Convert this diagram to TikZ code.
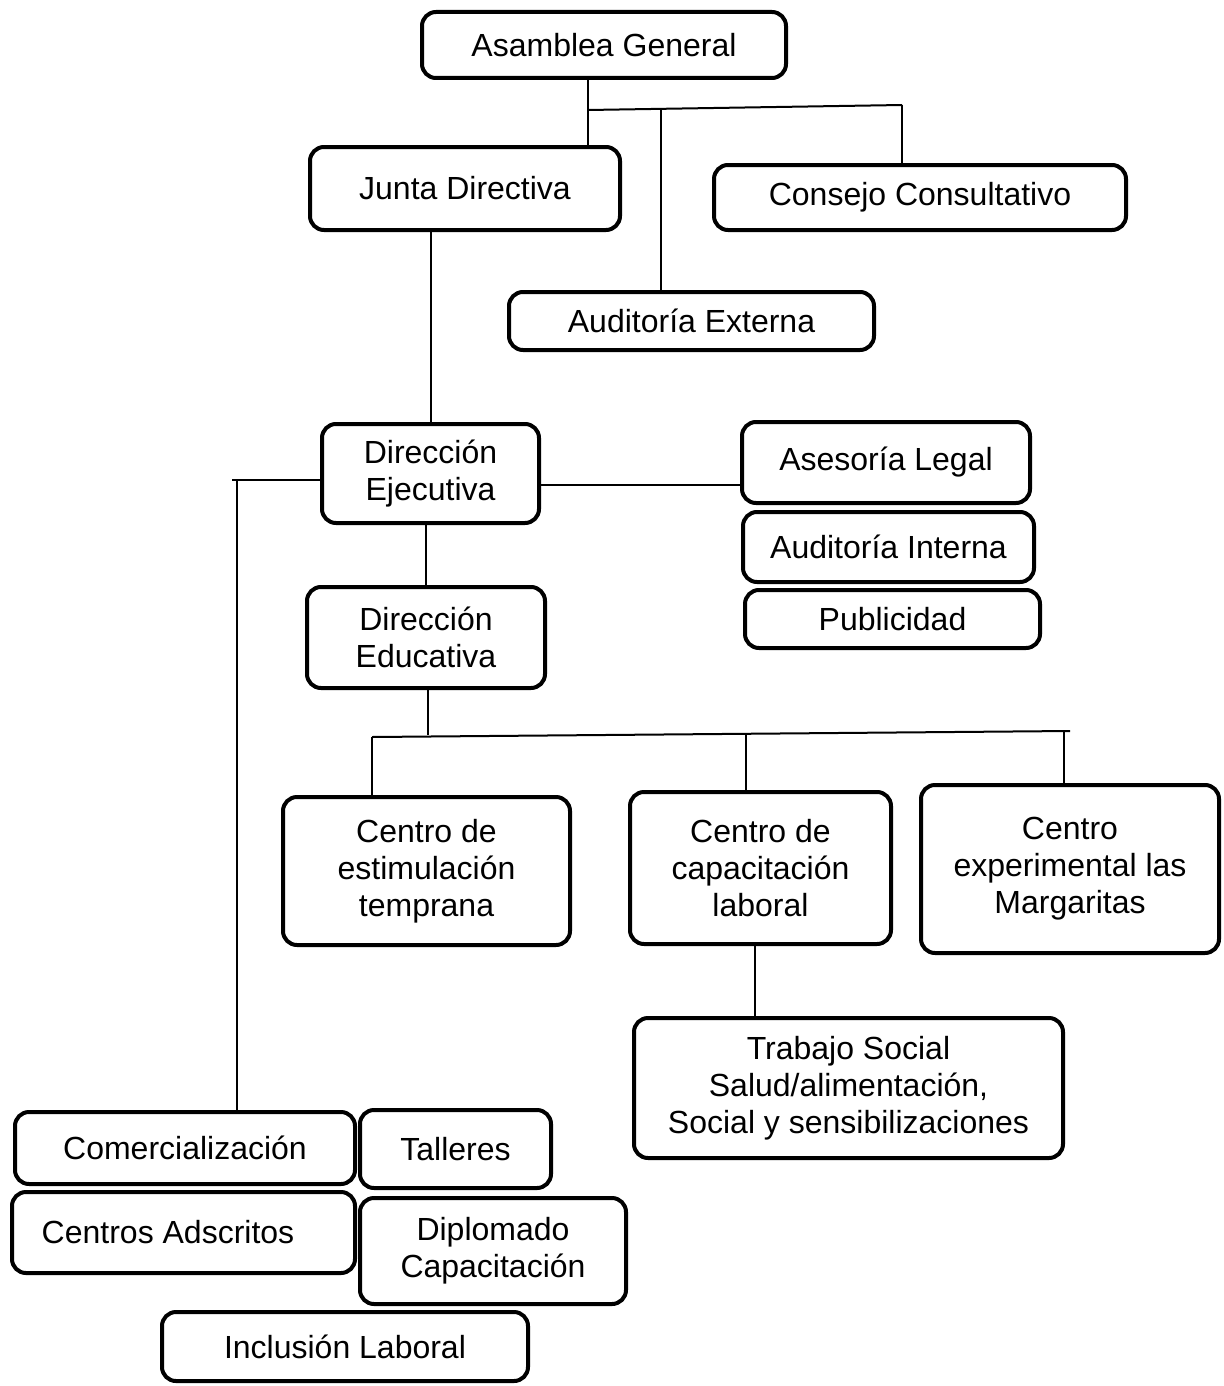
\documentclass[tikz,border=0pt]{standalone}
\usepackage{fontspec}
\setmainfont{Liberation Sans}
\begin{document}
\begin{tikzpicture}[x=1pt,y=-1pt,
  box/.style={draw, line width=4pt, rounded corners=14pt, inner sep=0pt, align=center,
    font=\fontsize{32}{37}\selectfont},
  link/.style={line width=2pt}]
\useasboundingbox (0,0) rectangle (1223,1386);
% nodes
\node[box, minimum width=364, minimum height=66] (ag) at (604,45) {Asamblea General};
\node[box, minimum width=310, minimum height=83] (jd) at (465,188.5) {Junta Directiva};
\node[box, minimum width=412, minimum height=65] (cc) at (920,197.5) {Consejo Consultativo};
\node[box, minimum width=365, minimum height=58] (ae) at (691.5,321) {Auditoría Externa};
\node[box, minimum width=217, minimum height=99] (de) at (430.5,473.5) {Dirección\\Ejecutiva};
\node[box, minimum width=288, minimum height=81] (al) at (886,462.5) {Asesoría Legal};
\node[box, minimum width=291, minimum height=70] (ai) at (888.5,547) {Auditoría Interna};
\node[box, minimum width=295, minimum height=58] (pu) at (892.5,619) {Publicidad};
\node[box, minimum width=238, minimum height=101] (ded) at (426,637.5) {Dirección\\Educativa};
\node[box, minimum width=287, minimum height=148] (ce) at (426.5,871) {Centro de\\estimulación\\temprana};
\node[box, minimum width=261, minimum height=152] (cl) at (760.5,868) {Centro de\\capacitación\\laboral};
\node[box, minimum width=298, minimum height=168] (cm) at (1070,869) {Centro\\experimental las\\Margaritas};
\node[box, minimum width=429, minimum height=140] (ts) at (848.5,1088) {Trabajo Social\\Salud/alimentación,\\Social y sensibilizaciones};
\node[box, minimum width=340, minimum height=72] (co) at (185,1148) {Comercialización};
\node[box, minimum width=191, minimum height=78] (ta) at (455.5,1149) {Talleres};
\node[box, minimum width=343, minimum height=81] (ca) at (183.5,1232.5) {Centros Adscritos\hspace{31pt}};
\node[box, minimum width=266, minimum height=106] (di) at (493,1251) {Diplomado\\Capacitación};
\node[box, minimum width=366, minimum height=69] (il) at (345,1346.5) {Inclusión Laboral};
% connector coordinates
\coordinate (b1) at (588,110);
\coordinate (b2) at (661,108.5);
\coordinate (b3) at (902,105);
\coordinate (c1) at (541,485);
\coordinate (l1) at (232,480);
\coordinate (l2) at (237,480);
\coordinate (e1) at (372,737);
\coordinate (e2) at (746,734);
\coordinate (e3) at (1064,731);
\coordinate (e4) at (1070,731);
\coordinate (e0) at (428,735);
% connectors
\draw[link] (ag.south -| b1) -- (b1) -- (jd.north -| b1);
\draw[link] (b1) -- (b3);
\draw[link] (b2) -- (ae.north -| b2);
\draw[link] (b3) -- (cc.north -| b3);
\draw[link] (de.north |- jd.south) -- (de.north);
\draw[link] (c1 -| de.east) -- (c1 -| al.west);
\draw[link] (de.west |- l1) -- (l1);
\draw[link] (l2) -- (co.north -| l2);
\draw[link] (ded.north |- de.south) -- (ded.north);
\draw[link] (ded.south -| e0) -- (e0);
\draw[link] (e1) -- (e4);
\draw[link] (e1) -- (ce.north -| e1);
\draw[link] (e2) -- ([yshift=-4pt]cl.north -| e2);
\draw[link] (e3) -- (cm.north -| e3);
\draw[link] (cl.south -| 755,0) -- (ts.north -| 755,0);
\end{tikzpicture}
\end{document}
